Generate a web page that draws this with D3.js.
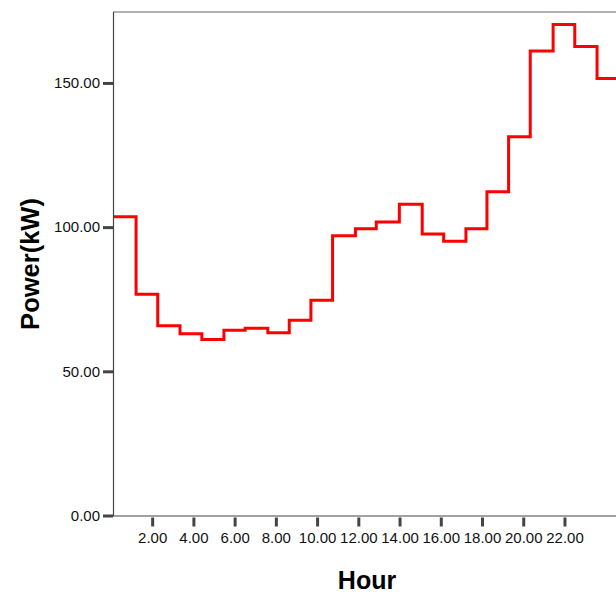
<!DOCTYPE html>
<html>
<head>
<meta charset="utf-8">
<script src="https://cdn.jsdelivr.net/npm/d3@7"></script>
<style>
  html, body { margin: 0; padding: 0; background: #fff; }
  svg { display: block; font-family: "Liberation Sans", Arial, sans-serif; }
</style>
</head>
<body>
<svg id="chart" width="616" height="594"></svg>
<script>
// Step boundaries (hour units) and the power level of each step
const stepEdges = [0.10, 1.22, 2.27, 3.35, 4.41, 5.48, 6.51, 7.61, 8.65, 9.70, 10.75, 11.86,
                   12.87, 13.99, 15.10, 16.14, 17.22, 18.24, 19.29, 20.34, 21.45, 22.50, 23.58, 24.62, 25.70];
const power = [103.6, 76.7, 65.8, 63.0, 61.0, 64.2, 64.9, 63.4, 67.7, 74.6, 97.0, 99.4,
               101.8, 107.9, 97.6, 95.1, 99.4, 112.3, 131.3, 161.1, 170.3, 162.6, 151.5, 144.0];
const xTicks = [2, 4, 6, 8, 10, 12, 14, 16, 18, 20, 22];
const yTicks = [0, 50, 100, 150];
const xTitle = "Hour";
const yTitle = "Power(kW)";

(function () {
const svg = d3.select("#chart");
const mLeft = 113, mRight = 616, mTop = 12, mBottom = 515.5;

const x = d3.scaleLinear().domain([0.1, 24.5]).range([mLeft, mRight]);
const y = d3.scaleLinear().domain([0, 174.6]).range([mBottom, mTop]);

const pts = power.map((v, i) => [stepEdges[i], v]);
pts.push([stepEdges[stepEdges.length - 1], power[power.length - 1]]);

svg.append("defs").append("clipPath").attr("id", "clip")
  .append("rect").attr("x", mLeft).attr("y", 0).attr("width", 700).attr("height", mBottom);

// step line
svg.append("path")
  .datum(pts)
  .attr("clip-path", "url(#clip)")
  .attr("fill", "none")
  .attr("stroke", "#ff0000")
  .attr("stroke-width", 3)
  .attr("stroke-linejoin", "miter")
  .attr("d", d3.line().x(d => x(d[0])).y(d => y(d[1])).curve(d3.curveStepAfter));

// top frame line
svg.append("line").attr("x1", mLeft).attr("x2", 700).attr("y1", mTop).attr("y2", mTop)
  .attr("stroke", "#999").attr("stroke-width", 1.5);

// Y axis
const yAxis = svg.append("g").attr("transform", `translate(${mLeft},0)`)
  .call(d3.axisLeft(y).tickValues(yTicks).tickFormat(d3.format(".2f")).tickSize(10).tickSizeOuter(0).tickPadding(3));
yAxis.attr("font-size", null).attr("font-family", null);
yAxis.select(".domain").attr("stroke", "#444").attr("stroke-width", 1.2)
  .attr("d", `M0.5,${mTop}V${mBottom + 0.5}`);
yAxis.selectAll(".tick line").attr("stroke", "#444").attr("stroke-width", 3);
yAxis.selectAll(".tick text").style("font-size", "15px").attr("fill", "#111")
  .style("font-family", "'Liberation Sans', Arial, sans-serif");

// X axis
const xAxis = svg.append("g").attr("transform", `translate(0,${mBottom})`)
  .call(d3.axisBottom(x).tickValues(xTicks).tickFormat(d3.format(".2f")).tickSize(11).tickSizeOuter(0).tickPadding(6));
xAxis.attr("font-size", null).attr("font-family", null);
xAxis.select(".domain").attr("stroke", "#444").attr("stroke-width", 1.2)
  .attr("d", `M${mLeft},0.5H700`);
xAxis.selectAll(".tick line").attr("stroke", "#444").attr("stroke-width", 3).attr("y1", 2);
xAxis.selectAll(".tick text").style("font-size", "15px").attr("fill", "#111")
  .style("font-family", "'Liberation Sans', Arial, sans-serif");

// titles
svg.append("text").attr("x", 367).attr("y", 589).attr("text-anchor", "middle")
  .style("font-size", "25px").attr("font-weight", "bold").attr("fill", "#000").text(xTitle);
svg.append("text").attr("transform", "translate(39,264) rotate(-90)").attr("text-anchor", "middle")
  .style("font-size", "25.5px").attr("font-weight", "bold").attr("fill", "#000").text(yTitle);
})();
</script>
</body>
</html>
